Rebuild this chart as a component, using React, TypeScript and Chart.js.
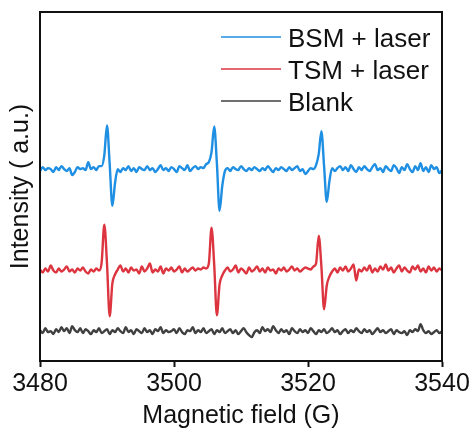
import { useEffect, useRef } from 'react';
import { Chart, registerables } from 'chart.js';

Chart.register(...registerables);

// Magnetic field sampling (G)
const FIELD_G = [
  3480, 3480.4, 3480.8, 3481.2, 3481.6, 3482, 3482.4, 3482.8, 3483.2, 3483.6,
  3484, 3484.4, 3484.8, 3485.2, 3485.6, 3486, 3486.4, 3486.8, 3487.2, 3487.6,
  3488, 3488.4, 3488.8, 3489.2, 3489.6, 3490, 3490.4, 3490.8, 3491.2, 3491.6,
  3492, 3492.4, 3492.8, 3493.2, 3493.6, 3494, 3494.4, 3494.8, 3495.2, 3495.6,
  3496, 3496.4, 3496.8, 3497.2, 3497.6, 3498, 3498.4, 3498.8, 3499.2, 3499.6,
  3500, 3500.4, 3500.8, 3501.2, 3501.6, 3502, 3502.4, 3502.8, 3503.2, 3503.6,
  3504, 3504.4, 3504.8, 3505.2, 3505.6, 3506, 3506.4, 3506.8, 3507.2, 3507.6,
  3508, 3508.4, 3508.8, 3509.2, 3509.6, 3510, 3510.4, 3510.8, 3511.2, 3511.6,
  3512, 3512.4, 3512.8, 3513.2, 3513.6, 3514, 3514.4, 3514.8, 3515.2, 3515.6,
  3516, 3516.4, 3516.8, 3517.2, 3517.6, 3518, 3518.4, 3518.8, 3519.2, 3519.6,
  3520, 3520.4, 3520.8, 3521.2, 3521.6, 3522, 3522.4, 3522.8, 3523.2, 3523.6,
  3524, 3524.4, 3524.8, 3525.2, 3525.6, 3526, 3526.4, 3526.8, 3527.2, 3527.6,
  3528, 3528.4, 3528.8, 3529.2, 3529.6, 3530, 3530.4, 3530.8, 3531.2, 3531.6,
  3532, 3532.4, 3532.8, 3533.2, 3533.6, 3534, 3534.4, 3534.8, 3535.2, 3535.6,
  3536, 3536.4, 3536.8, 3537.2, 3537.6, 3538, 3538.4, 3538.8, 3539.2, 3539.6,
  3540,
];

// Intensity (a.u., stacked offsets)
const BSM_LASER = [
  191, 195, 192, 194, 193, 190, 195, 192, 196, 193,
  191, 194, 187, 190, 195, 193, 194, 192, 200, 193,
  195, 192, 196, 196, 207, 237, 198, 156, 179, 193,
  190, 194, 192, 196, 191, 194, 190, 195, 193, 192,
  196, 192, 194, 190, 193, 197, 192, 194, 191, 195,
  193, 190, 196, 194, 192, 197, 191, 194, 196, 193,
  195, 194, 198, 200, 210, 236, 199, 151, 176, 191,
  194, 191, 195, 193, 192, 196, 193, 191, 194, 192,
  195, 193, 191, 194, 192, 196, 193, 190, 194, 192,
  195, 193, 191, 195, 192, 194, 196, 191, 193, 188,
  191, 194, 193, 197, 208, 231, 196, 160, 181, 194,
  191, 194, 196, 192, 195, 191, 197, 193, 190, 195,
  192, 196, 193, 191, 195, 198, 192, 194, 190, 196,
  193, 191, 197, 194, 189, 195, 192, 198, 193, 190,
  196, 192, 199, 191, 195, 190, 197, 193, 195, 189,
  192,
];

const TSM_LASER = [
  92, 89, 93, 90, 96, 91, 89, 93, 90, 92,
  95, 90, 92, 89, 93, 91, 94, 90, 88, 92,
  90, 93, 91, 99, 137, 98, 45, 78, 87, 92,
  96, 90, 93, 89, 94, 91, 92, 88, 95, 90,
  93, 98, 89, 92, 90, 95, 88, 93, 91, 94,
  90, 92, 95, 89, 93, 90, 92, 94, 91, 93,
  92, 94, 93, 98, 134, 97, 46, 77, 86, 91,
  94, 90, 92, 96, 89, 93, 91, 88, 94, 90,
  92, 95, 90, 93, 89, 94, 91, 92, 88, 93,
  91, 94, 90, 92, 95, 91, 93, 90, 92, 94,
  93, 92, 95, 98, 126, 95, 52, 76, 85, 90,
  93, 89, 94, 91, 95, 90, 93, 97, 81, 92,
  90, 94, 91, 96, 89, 93, 90, 95, 92, 97,
  91, 94, 89, 93, 96, 90, 94, 91, 89, 95,
  92, 96, 90, 93, 89, 95, 91, 94, 90, 93,
  91,
];

const BLANK = [
  31, 28, 33, 29, 30, 27, 32, 29, 34, 30,
  33, 28, 35, 31, 29, 33, 28, 32, 30, 27,
  31, 29, 33, 28, 30, 32, 27, 31, 29, 33,
  30, 28, 34, 29, 31, 27, 32, 30, 28, 33,
  29, 31, 27, 32, 30, 34, 28, 31, 29, 30,
  32, 28, 33, 29, 27, 31, 30, 34, 28, 31,
  29, 33, 28, 30, 32, 27, 31, 29, 33, 28,
  30, 32, 28, 31, 27, 30, 33, 29, 26, 24,
  29, 31, 28, 34, 30, 32, 29, 35, 31, 28,
  32, 29, 31, 27, 33, 30, 28, 32, 29, 31,
  28, 33, 30, 27, 31, 29, 32, 28, 30, 33,
  29, 31, 27, 30, 32, 28, 31, 29, 33, 30,
  28, 32, 29, 31, 27, 30, 33, 29, 31, 28,
  30, 32, 27, 31, 29, 28, 30, 26, 31, 29,
  32, 30, 37, 31, 28, 30, 27, 29, 31, 28,
  30,
];

const SERIES_LABELS = ['BSM + laser', 'TSM + laser', 'Blank'];
const SERIES_COLORS = ['#1f8fe3', '#dd3540', '#404040'];
const X_TICKS = [3480, 3500, 3520, 3540];
const X_TITLE = 'Magnetic field (G)';
const Y_TITLE = 'Intensity ( a.u.)';

const FONT_FAMILY = "'Liberation Sans', Arial, Helvetica, sans-serif";
const TEXT_COLOR = '#111111';

const framePlugin = {
  id: 'frame',
  afterDatasetsDraw(chart: any) {
    const { ctx, chartArea } = chart;
    ctx.save();
    ctx.strokeStyle = '#111111';
    ctx.lineWidth = 2;
    ctx.strokeRect(chartArea.left, chartArea.top, chartArea.right - chartArea.left, chartArea.bottom - chartArea.top);
    ctx.restore();
  },
};

const lineLegendPlugin = {
  id: 'lineLegend',
  afterDraw(chart: any) {
    const { ctx, chartArea } = chart;
    ctx.save();
    chart.data.datasets.forEach((ds: any, i: number) => {
      const y = chartArea.top + 25 + i * 32;
      const x0 = chartArea.right - 221;
      ctx.strokeStyle = ds.borderColor;
      ctx.lineWidth = 1.6;
      ctx.beginPath();
      ctx.moveTo(x0, y);
      ctx.lineTo(x0 + 60, y);
      ctx.stroke();
      ctx.fillStyle = TEXT_COLOR;
      ctx.font = `26px ${FONT_FAMILY}`;
      ctx.textBaseline = 'alphabetic';
      ctx.textAlign = 'left';
      ctx.fillText(ds.label, x0 + 67, y + 9.5);
    });
    ctx.restore();
  },
};

export default function App() {
  const canvasRef = useRef<HTMLCanvasElement | null>(null);

  useEffect(() => {
    document.body.style.margin = '0';
    const canvas = canvasRef.current;
    if (!canvas) return;
    const series = [BSM_LASER, TSM_LASER, BLANK];
    const chart = new Chart(canvas, {
      type: 'line',
      data: {
        datasets: series.map((vals, i) => ({
          label: SERIES_LABELS[i],
          data: vals.map((v, j) => ({ x: FIELD_G[j], y: v })),
          borderColor: SERIES_COLORS[i],
          backgroundColor: SERIES_COLORS[i],
          borderWidth: 2.4,
          pointRadius: 0,
          cubicInterpolationMode: 'monotone',
          fill: false,
        })),
      },
      options: {
        animation: false,
        responsive: false,
        maintainAspectRatio: false,
        devicePixelRatio: 1,
        layout: { padding: { top: 12, right: 32, bottom: 0, left: 0 } },
        plugins: {
          legend: { display: false },
          tooltip: { enabled: false },
        },
        scales: {
          x: {
            type: 'linear',
            min: 3480,
            max: 3540,
            afterBuildTicks: (axis: any) => {
              axis.ticks = X_TICKS.map((v) => ({ value: v }));
            },
            grid: {
              display: true,
              drawOnChartArea: false,
              drawTicks: true,
              tickLength: 6,
              tickWidth: 2,
              tickColor: '#111111',
            },
            border: { display: true, color: '#111111', width: 2 },
            ticks: {
              font: { family: FONT_FAMILY, size: 25 },
              color: TEXT_COLOR,
              padding: 2,
              maxRotation: 0,
              callback: (v: any) => String(v),
            },
            title: {
              display: true,
              text: X_TITLE,
              font: { family: FONT_FAMILY, size: 25 },
              color: TEXT_COLOR,
              padding: { top: 0, bottom: 4 },
            },
          },
          y: {
            type: 'linear',
            min: 0,
            max: 351,
            afterFit: (scale: any) => {
              scale.width = 40;
            },
            grid: { display: false },
            border: { display: false },
            ticks: { display: false },
            title: {
              display: true,
              text: Y_TITLE,
              font: { family: FONT_FAMILY, size: 25 },
              color: TEXT_COLOR,
              padding: { top: 6, bottom: 4 },
            },
          },
        },
      },
      plugins: [framePlugin, lineLegendPlugin],
    } as any);
    return () => chart.destroy();
  }, []);

  return (
    <div style={{ width: 474, height: 435, background: '#ffffff' }}>
      <canvas ref={canvasRef} width={474} height={435} style={{ display: 'block' }} />
    </div>
  );
}
